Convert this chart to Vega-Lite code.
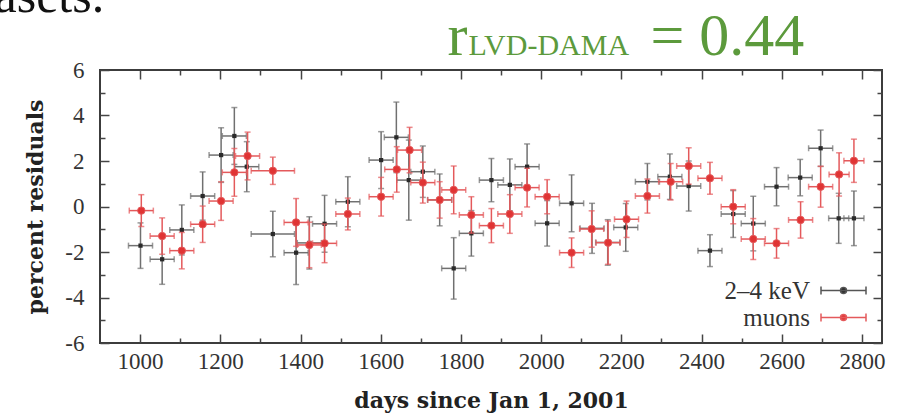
{
  "$schema": "https://vega.github.io/schema/vega-lite/v6.json",
  "autosize": "none",
  "padding": {"left": 100, "top": 70, "right": 15, "bottom": 73},
  "width": 782,
  "height": 273,
  "background": "white",
  "config": {
    "view": {"stroke": "#3c3c3c", "strokeWidth": 2},
    "axis": {"grid": false, "domain": false, "tickColor": "#444444", "tickWidth": 1.5}
  },
  "datasets": {
    "kev": [
      {"day": 1001, "y": -1.72, "ey": 1.0, "ex": 30, "series": "2–4 keV"},
      {"day": 1055, "y": -2.32, "ey": 1.1, "ex": 30, "series": "2–4 keV"},
      {"day": 1104, "y": -1.03, "ey": 1.1, "ex": 30, "series": "2–4 keV"},
      {"day": 1156, "y": 0.46, "ey": 1.06, "ex": 30, "series": "2–4 keV"},
      {"day": 1202, "y": 2.26, "ey": 1.2, "ex": 30, "series": "2–4 keV"},
      {"day": 1235, "y": 3.1, "ey": 1.25, "ex": 30, "series": "2–4 keV"},
      {"day": 1266, "y": 1.75, "ey": 1.1, "ex": 30, "series": "2–4 keV"},
      {"day": 1331, "y": -1.21, "ey": 1.0, "ex": 54, "series": "2–4 keV"},
      {"day": 1389, "y": -2.03, "ey": 1.4, "ex": 30, "series": "2–4 keV"},
      {"day": 1422, "y": -1.6, "ey": 1.15, "ex": 30, "series": "2–4 keV"},
      {"day": 1460, "y": -0.76, "ey": 1.25, "ex": 30, "series": "2–4 keV"},
      {"day": 1518, "y": 0.21, "ey": 1.1, "ex": 30, "series": "2–4 keV"},
      {"day": 1601, "y": 2.04, "ey": 1.25, "ex": 30, "series": "2–4 keV"},
      {"day": 1639, "y": 3.04, "ey": 1.55, "ex": 30, "series": "2–4 keV"},
      {"day": 1670, "y": 1.16, "ey": 1.76, "ex": 30, "series": "2–4 keV"},
      {"day": 1705, "y": 1.53, "ey": 1.13, "ex": 30, "series": "2–4 keV"},
      {"day": 1747, "y": 0.29, "ey": 1.14, "ex": 30, "series": "2–4 keV"},
      {"day": 1782, "y": -2.72, "ey": 1.35, "ex": 30, "series": "2–4 keV"},
      {"day": 1826, "y": -1.18, "ey": 1.0, "ex": 30, "series": "2–4 keV"},
      {"day": 1876, "y": 1.16, "ey": 0.95, "ex": 30, "series": "2–4 keV"},
      {"day": 1922, "y": 0.95, "ey": 1.14, "ex": 30, "series": "2–4 keV"},
      {"day": 1965, "y": 1.75, "ey": 1.0, "ex": 30, "series": "2–4 keV"},
      {"day": 2015, "y": -0.74, "ey": 1.0, "ex": 30, "series": "2–4 keV"},
      {"day": 2076, "y": 0.14, "ey": 1.25, "ex": 30, "series": "2–4 keV"},
      {"day": 2127, "y": -0.96, "ey": 1.1, "ex": 30, "series": "2–4 keV"},
      {"day": 2166, "y": -1.58, "ey": 1.0, "ex": 30, "series": "2–4 keV"},
      {"day": 2211, "y": -0.92, "ey": 1.05, "ex": 30, "series": "2–4 keV"},
      {"day": 2265, "y": 1.09, "ey": 0.8, "ex": 30, "series": "2–4 keV"},
      {"day": 2321, "y": 1.31, "ey": 1.0, "ex": 30, "series": "2–4 keV"},
      {"day": 2368, "y": 0.9, "ey": 1.1, "ex": 30, "series": "2–4 keV"},
      {"day": 2421, "y": -1.94, "ey": 0.7, "ex": 30, "series": "2–4 keV"},
      {"day": 2479, "y": -0.33, "ey": 1.03, "ex": 30, "series": "2–4 keV"},
      {"day": 2529, "y": -0.75, "ey": 1.2, "ex": 30, "series": "2–4 keV"},
      {"day": 2587, "y": 0.87, "ey": 0.84, "ex": 30, "series": "2–4 keV"},
      {"day": 2646, "y": 1.27, "ey": 0.8, "ex": 30, "series": "2–4 keV"},
      {"day": 2697, "y": 2.56, "ey": 0.8, "ex": 30, "series": "2–4 keV"},
      {"day": 2742, "y": -0.52, "ey": 1.1, "ex": 25, "series": "2–4 keV"},
      {"day": 2780, "y": -0.52, "ey": 1.2, "ex": 25, "series": "2–4 keV"}
    ],
    "muons": [
      {"day": 1003, "y": -0.18, "ey": 0.7, "ex": 30, "series": "muons"},
      {"day": 1055, "y": -1.3, "ey": 0.8, "ex": 30, "series": "muons"},
      {"day": 1104, "y": -1.94, "ey": 0.8, "ex": 30, "series": "muons"},
      {"day": 1156, "y": -0.78, "ey": 0.8, "ex": 30, "series": "muons"},
      {"day": 1202, "y": 0.24, "ey": 0.85, "ex": 30, "series": "muons"},
      {"day": 1235, "y": 1.5, "ey": 1.05, "ex": 30, "series": "muons"},
      {"day": 1268, "y": 2.22, "ey": 1.05, "ex": 30, "series": "muons"},
      {"day": 1331, "y": 1.57, "ey": 0.6, "ex": 54, "series": "muons"},
      {"day": 1389, "y": -0.7, "ey": 1.05, "ex": 30, "series": "muons"},
      {"day": 1422, "y": -1.69, "ey": 1.0, "ex": 30, "series": "muons"},
      {"day": 1460, "y": -1.62, "ey": 0.85, "ex": 30, "series": "muons"},
      {"day": 1518, "y": -0.33, "ey": 0.7, "ex": 30, "series": "muons"},
      {"day": 1601, "y": 0.43, "ey": 0.85, "ex": 30, "series": "muons"},
      {"day": 1640, "y": 1.63, "ey": 1.0, "ex": 30, "series": "muons"},
      {"day": 1672, "y": 2.48, "ey": 1.0, "ex": 30, "series": "muons"},
      {"day": 1705, "y": 1.05, "ey": 0.9, "ex": 30, "series": "muons"},
      {"day": 1747, "y": 0.29, "ey": 0.8, "ex": 30, "series": "muons"},
      {"day": 1782, "y": 0.73, "ey": 1.05, "ex": 30, "series": "muons"},
      {"day": 1826, "y": -0.37, "ey": 0.8, "ex": 30, "series": "muons"},
      {"day": 1876, "y": -0.84, "ey": 0.75, "ex": 30, "series": "muons"},
      {"day": 1922, "y": -0.33, "ey": 0.85, "ex": 30, "series": "muons"},
      {"day": 1965, "y": 0.83, "ey": 0.85, "ex": 30, "series": "muons"},
      {"day": 2015, "y": 0.43, "ey": 0.75, "ex": 30, "series": "muons"},
      {"day": 2076, "y": -2.03, "ey": 0.65, "ex": 30, "series": "muons"},
      {"day": 2126, "y": -0.99, "ey": 0.8, "ex": 30, "series": "muons"},
      {"day": 2167, "y": -1.59, "ey": 0.95, "ex": 30, "series": "muons"},
      {"day": 2213, "y": -0.56, "ey": 0.8, "ex": 30, "series": "muons"},
      {"day": 2265, "y": 0.46, "ey": 0.75, "ex": 30, "series": "muons"},
      {"day": 2323, "y": 1.09, "ey": 0.8, "ex": 30, "series": "muons"},
      {"day": 2368, "y": 1.78, "ey": 0.8, "ex": 30, "series": "muons"},
      {"day": 2421, "y": 1.24, "ey": 0.7, "ex": 30, "series": "muons"},
      {"day": 2479, "y": -0.01, "ey": 0.75, "ex": 30, "series": "muons"},
      {"day": 2529, "y": -1.43, "ey": 0.9, "ex": 30, "series": "muons"},
      {"day": 2587, "y": -1.62, "ey": 0.65, "ex": 30, "series": "muons"},
      {"day": 2647, "y": -0.59, "ey": 0.8, "ex": 30, "series": "muons"},
      {"day": 2697, "y": 0.87, "ey": 0.9, "ex": 30, "series": "muons"},
      {"day": 2743, "y": 1.41, "ey": 0.95, "ex": 25, "series": "muons"},
      {"day": 2780, "y": 2.01, "ey": 0.95, "ex": 25, "series": "muons"}
    ]
  },
  "resolve": {"axis": {"x": "independent", "y": "independent"}},
  "layer": [
    {
      "data": {"name": "kev"},
      "mark": {"type": "errorbar", "ticks": {"size": 6}, "color": "#707070", "thickness": 1.5},
      "encoding": {
        "x": {"field": "day", "type": "quantitative", "scale": {"domain": [900, 2850], "nice": false, "zero": false},
          "axis": {"orient": "bottom", "ticks": false, "values": [1000, 1200, 1400, 1600, 1800, 2000, 2200, 2400, 2600, 2800], "format": "d",
            "labelFont": "Liberation Serif", "labelFontSize": 23, "labelColor": "#333333", "labelPadding": 7,
            "title": "days since Jan 1, 2001", "titleFont": "DejaVu Serif", "titleFontSize": 22, "titleFontWeight": "bold", "titleColor": "#222222", "titlePadding": 17}},
        "y": {"field": "y", "type": "quantitative", "scale": {"domain": [-6, 6], "nice": false, "zero": false},
          "axis": {"orient": "left", "ticks": false, "values": [-6, -4, -2, 0, 2, 4, 6], "labelExpr": "'' + datum.value",
            "labelFont": "Liberation Serif", "labelFontSize": 23, "labelColor": "#333333", "labelPadding": 16,
            "title": "percent residuals", "titleFont": "DejaVu Serif", "titleFontSize": 22, "titleFontWeight": "bold", "titleColor": "#222222", "titlePadding": 17}},
        "yError": {"field": "ey"}
      }
    },
    {
      "data": {"name": "kev"},
      "mark": {"type": "errorbar", "ticks": {"size": 6}, "color": "#707070", "thickness": 1.5},
      "encoding": {
        "y": {"field": "y", "type": "quantitative",
          "axis": {"orient": "left", "tickSize": 9, "offset": -9, "labels": false, "title": null, "values": [-6, -4, -2, 0, 2, 4, 6]}},
        "x": {"field": "day", "type": "quantitative",
          "axis": {"orient": "bottom", "tickSize": 9, "offset": -9, "labels": false, "title": null, "values": [1000, 1200, 1400, 1600, 1800, 2000, 2200, 2400, 2600, 2800]}},
        "xError": {"field": "ex"}
      }
    },
    {
      "data": {"name": "kev"},
      "mark": {"type": "point", "shape": "square", "filled": true, "size": 18, "color": "#2a2a2a", "opacity": 1},
      "encoding": {
        "x": {"field": "day", "type": "quantitative",
          "axis": {"orient": "bottom", "tickSize": 5, "offset": -5, "labels": false, "title": null, "values": [1100, 1300, 1500, 1700, 1900, 2100, 2300, 2500, 2700]}},
        "y": {"field": "y", "type": "quantitative",
          "axis": {"orient": "left", "tickSize": 5, "offset": -5, "labels": false, "title": null, "values": [-5, -3, -1, 1, 3, 5]}}
      }
    },
    {
      "data": {"name": "muons"},
      "mark": {"type": "errorbar", "ticks": {"size": 6}, "color": "#e4595b", "thickness": 1.5},
      "encoding": {
        "x": {"field": "day", "type": "quantitative",
          "axis": {"orient": "top", "tickSize": 9, "offset": -9, "labels": false, "values": [1000, 1200, 1400, 1600, 1800, 2000, 2200, 2400, 2600, 2800],
            "title": "r", "titleX": 347, "titleY": -25, "titleAlign": "left", "titleBaseline": "alphabetic", "titleAnchor": "start",
            "titleFont": "Liberation Serif", "titleFontSize": 60, "titleFontWeight": "normal", "titleColor": "#5c9a3c"}},
        "y": {"field": "y", "type": "quantitative",
          "axis": {"orient": "right", "tickSize": 9, "offset": -9, "labels": false, "values": [-6, -4, -2, 0, 2, 4, 6],
            "title": "= 0.44", "titleX": -223, "titleY": -16, "titleAngle": 0, "titleAlign": "left", "titleBaseline": "alphabetic", "titleAnchor": "start",
            "titleFont": "Liberation Serif", "titleFontSize": 60, "titleFontWeight": "normal", "titleColor": "#5c9a3c"}},
        "yError": {"field": "ey"}
      }
    },
    {
      "data": {"name": "muons"},
      "mark": {"type": "errorbar", "ticks": {"size": 6}, "color": "#e4595b", "thickness": 1.5},
      "encoding": {
        "y": {"field": "y", "type": "quantitative",
          "axis": {"orient": "right", "tickSize": 5, "offset": -5, "labels": false, "values": [-5, -3, -1, 1, 3, 5],
            "title": "asets.", "titleX": -883, "titleY": -59, "titleAngle": 0, "titleAlign": "left", "titleBaseline": "alphabetic", "titleAnchor": "start",
            "titleFont": "Liberation Serif", "titleFontSize": 50, "titleFontWeight": "normal", "titleColor": "#111111"}},
        "x": {"field": "day", "type": "quantitative",
          "axis": {"orient": "top", "tickSize": 5, "offset": -5, "labels": false, "values": [1100, 1300, 1500, 1700, 1900, 2100, 2300, 2500, 2700],
            "title": "LVD-DAMA", "titleX": 368, "titleY": -21, "titleAlign": "left", "titleBaseline": "alphabetic", "titleAnchor": "start",
            "titleFont": "Liberation Serif", "titleFontSize": 30, "titleFontWeight": "normal", "titleColor": "#5c9a3c"}},
        "xError": {"field": "ex"}
      }
    },
    {
      "data": {"name": "muons"},
      "mark": {"type": "point", "shape": "circle", "filled": true, "size": 55, "opacity": 1, "strokeWidth": 1},
      "encoding": {
        "x": {"field": "day", "type": "quantitative", "axis": null},
        "y": {"field": "y", "type": "quantitative", "axis": null},
        "fill": {"field": "series", "type": "nominal",
          "scale": {"domain": ["2–4 keV", "muons"], "range": ["#2a2a2a", "#e03434"]},
          "legend": {"orient": "none", "legendX": 731, "legendY": 208, "title": null,
            "symbolType": "M-2.25,0H2.25M-2.25,-0.4V0.4M2.25,-0.4V0.4M0.3,0A0.3,0.3,0,1,1,-0.3,0A0.3,0.3,0,1,1,0.3,0Z",
            "symbolSize": 400, "symbolStrokeWidth": 1.5, "labelAlign": "right", "labelOffset": -46,
            "labelFont": "Liberation Serif", "labelFontSize": 25, "labelColor": "#333333", "rowPadding": 1, "padding": 0}},
        "stroke": {"field": "series", "type": "nominal",
          "scale": {"domain": ["2–4 keV", "muons"], "range": ["#555555", "#e4595b"]},
          "legend": {"orient": "none", "legendX": 731, "legendY": 208, "title": null,
            "symbolType": "M-2.25,0H2.25M-2.25,-0.4V0.4M2.25,-0.4V0.4M0.3,0A0.3,0.3,0,1,1,-0.3,0A0.3,0.3,0,1,1,0.3,0Z",
            "symbolSize": 400, "symbolStrokeWidth": 1.5, "labelAlign": "right", "labelOffset": -46,
            "labelFont": "Liberation Serif", "labelFontSize": 25, "labelColor": "#333333", "rowPadding": 1, "padding": 0}}
      }
    }
  ]
}
